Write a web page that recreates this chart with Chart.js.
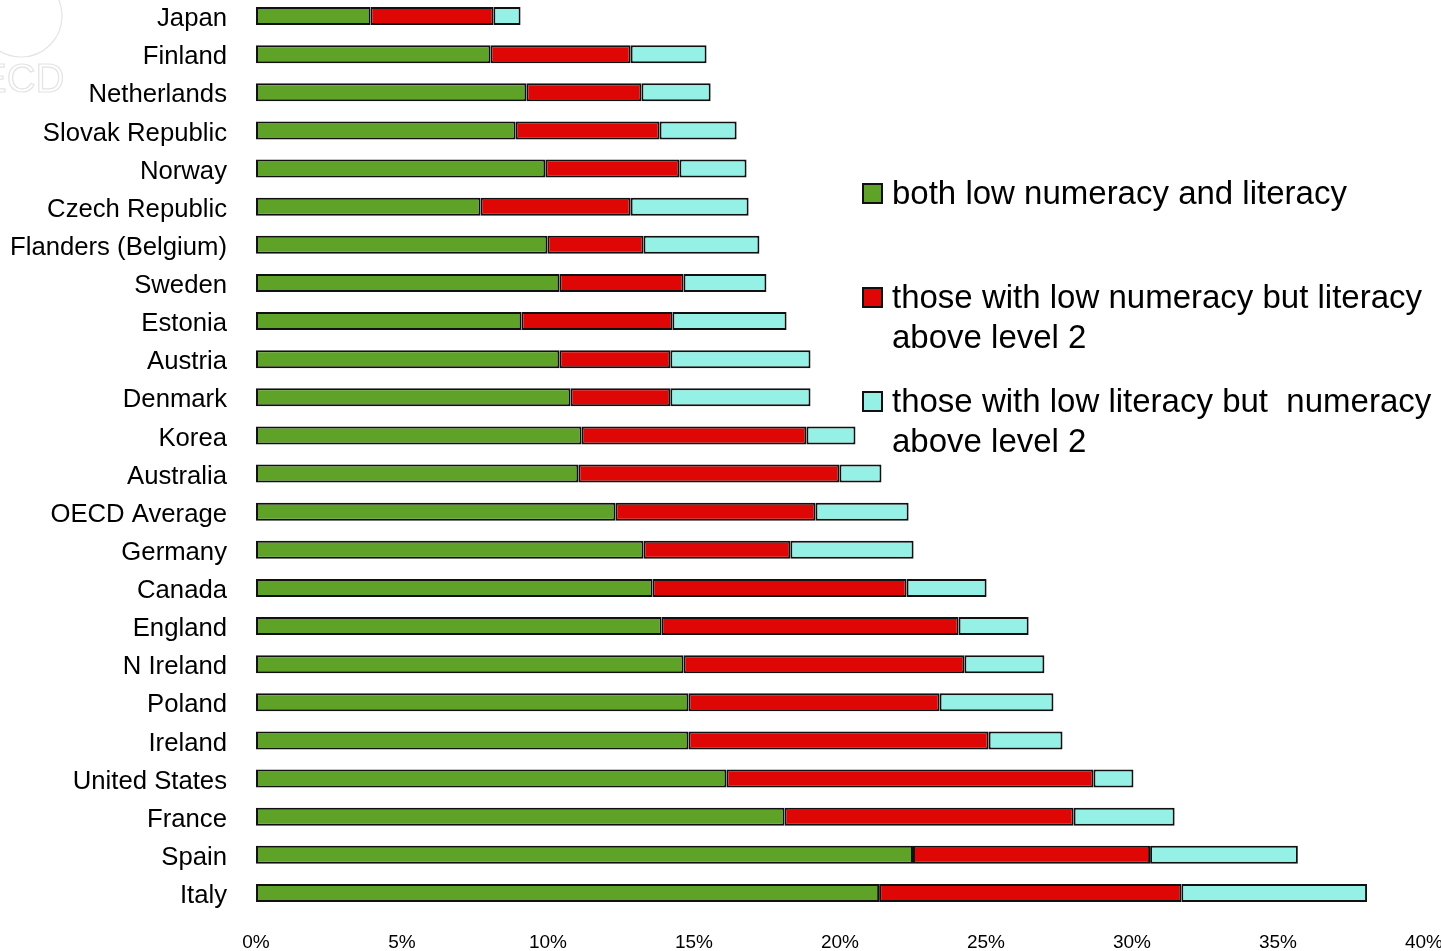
<!DOCTYPE html>
<html>
<head>
<meta charset="utf-8">
<script src="https://cdn.jsdelivr.net/npm/chart.js@4/dist/chart.umd.min.js"></script>
<style>
  html, body { margin: 0; padding: 0; background: #fff; overflow: hidden; }
  #wrap { position: relative; width: 1441px; height: 951px; overflow: hidden; }
  #chart { position: absolute; left: 0; top: -3px; }
  .legend-item { position: absolute; left: 862px; font: 33px "Liberation Sans", Arial, sans-serif; line-height: 40px; color: #000; }
  .legend-item .box { position: absolute; left: 0; top: 10px; width: 17px; height: 17px; border: 2px solid #111; }
  .legend-item .txt { margin-left: 30px; }
</style>
</head>
<body>
<div id="wrap">
  <canvas id="chart" width="1441" height="954"></canvas>
  <div id="legend"></div>
</div>
<script>
// data (% of adults)
const countries = [
  "Japan", "Finland", "Netherlands", "Slovak Republic", "Norway", "Czech Republic",
  "Flanders (Belgium)", "Sweden", "Estonia", "Austria", "Denmark", "Korea",
  "Australia", "OECD Average", "Germany", "Canada", "England", "N Ireland",
  "Poland", "Ireland", "United States", "France", "Spain", "Italy"
];
const bothLow = [3.92, 8.03, 9.26, 8.89, 9.91, 7.69, 9.98, 10.39, 9.09, 10.39, 10.77, 11.15,
  11.04, 12.31, 13.27, 13.58, 13.89, 14.64, 14.81, 14.81, 16.11, 18.10, 22.50, 21.34];
const lowNumeracyOnly = [4.21, 4.80, 3.94, 4.93, 4.59, 5.14, 3.29, 4.25, 5.17, 3.80, 3.42, 7.70,
  8.94, 6.85, 5.03, 8.70, 10.17, 9.62, 8.60, 10.28, 12.57, 9.90, 8.12, 10.35];
const lowLiteracyOnly = [0.93, 2.60, 2.37, 2.64, 2.30, 4.04, 3.97, 2.84, 3.91, 4.80, 4.80, 1.68,
  1.44, 3.19, 4.22, 2.74, 2.40, 2.74, 3.90, 2.53, 1.37, 3.46, 5.06, 6.36];
const seriesNames = [
  "both low numeracy and literacy",
  "those with low numeracy but literacy above level 2",
  "those with low literacy but  numeracy above level 2"
];
const legendLines = [
  ["both low numeracy and literacy"],
  ["those with low numeracy but literacy", "above level 2"],
  ["those with low literacy but\u00a0 numeracy", "above level 2"]
];
const colors = ["#5fa228", "#de0705", "#95f0e5"];

const fontFamily = '"Liberation Sans", Arial, sans-serif';

// faint logo in the corner (canvas sits 3px higher than the page)
const watermark = {
  id: "watermark",
  beforeDraw(chart) {
    const ctx = chart.ctx;
    ctx.save();
    ctx.strokeStyle = "#e4e4e4";
    ctx.lineWidth = 1.2;
    ctx.beginPath();
    ctx.arc(21, 19, 41, 0, Math.PI * 2);
    ctx.stroke();
    ctx.font = "40px " + fontFamily;
    ctx.textBaseline = "alphabetic";
    ctx.strokeText("ECD", -20, 95);
    ctx.restore();
  }
};

const datasets = [bothLow, lowNumeracyOnly, lowLiteracyOnly].map((vals, i) => ({
  label: seriesNames[i],
  data: vals,
  backgroundColor: colors[i],
  borderColor: "#111",
  borderWidth: 2,
  borderSkipped: false,
  barPercentage: 0.47,
  categoryPercentage: 1
}));

new Chart(document.getElementById("chart"), {
  type: "bar",
  data: { labels: countries, datasets: datasets },
  options: {
    indexAxis: "y",
    responsive: false,
    animation: false,
    layout: { padding: { top: 0, right: 17, bottom: 0, left: 0 } },
    plugins: { legend: { display: false }, tooltip: { enabled: false } },
    scales: {
      x: {
        stacked: true,
        min: 0,
        max: 40,
        grid: { display: false, drawTicks: false },
        border: { display: false },
        ticks: {
          stepSize: 5,
          maxRotation: 0,
          padding: 19,
          color: "#000",
          font: { family: fontFamily, size: 19 },
          callback: (v) => v + "%"
        },
        afterFit: (scale) => {
          scale.height = 39;
          scale.paddingLeft = 0;
          scale.paddingRight = 0;
        }
      },
      y: {
        stacked: true,
        grid: { display: false, drawTicks: false },
        border: { display: false },
        ticks: {
          padding: 29,
          labelOffset: 3,
          color: "#000",
          font: { family: fontFamily, size: 25.7 },
          autoSkip: false
        },
        afterFit: (scale) => {
          scale.width = 256;
          scale.paddingTop = 0;
          scale.paddingBottom = 0;
        }
      }
    }
  },
  plugins: [watermark]
});

// legend on the right
const tops = [173, 277, 381];
const legend = document.getElementById("legend");
legendLines.forEach((lines, i) => {
  const item = document.createElement("div");
  item.className = "legend-item";
  item.style.top = tops[i] + "px";
  item.innerHTML = '<span class="box" style="background:' + colors[i] + '"></span>' +
    '<div class="txt">' + lines.join("<br>") + "</div>";
  legend.appendChild(item);
});
</script>
</body>
</html>
